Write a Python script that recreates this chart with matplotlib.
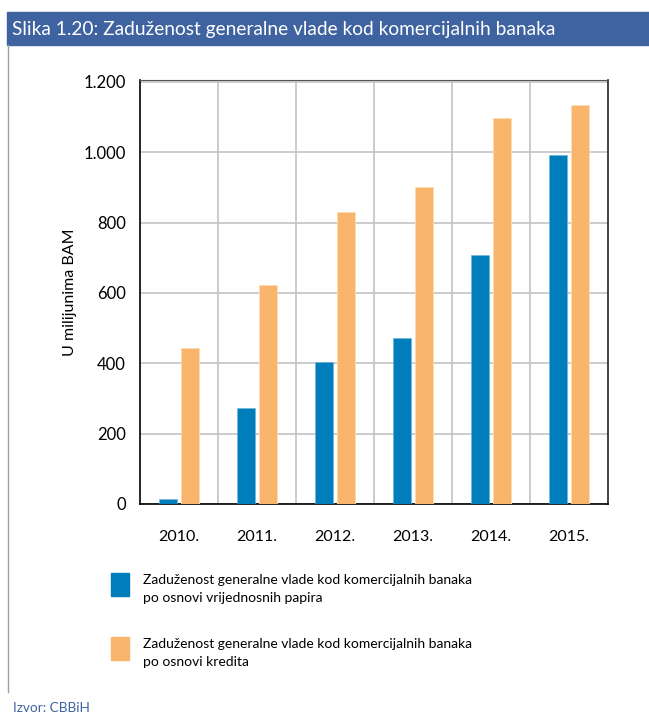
import matplotlib.pyplot as plt
import matplotlib.patches as mpatches
from matplotlib.lines import Line2D
import numpy as np

plt.rcParams['font.family'] = ['Lato', 'DejaVu Sans']

years = ['2010.', '2011.', '2012.', '2013.', '2014.', '2015.']
papiri = [13, 273, 403, 472, 707, 991]
krediti = [443, 622, 830, 900, 1097, 1133]
yticks = [0, 200, 400, 600, 800, 1000, 1200]
ytick_labels = ['0', '200', '400', '600', '800', '1.000', '1.200']
legend_labels = ['Zaduženost generalne vlade kod komercijalnih banaka\npo osnovi vrijednosnih papira',
                 'Zaduženost generalne vlade kod komercijalnih banaka\npo osnovi kredita']

blue = '#007dbb'
orange = '#f9b56b'

fig = plt.figure(figsize=(6.49, 7.15), dpi=100)

# title bar
fig.patches.append(mpatches.Rectangle((7 / 649, 1 - 45 / 715), 1, 33 / 715,
                                      transform=fig.transFigure, color='#3e63a0', zorder=0))
fig.text(12 / 649, 1 - 29 / 715, 'Slika 1.20: Zaduženost generalne vlade kod komercijalnih banaka',
         color='white', fontsize=13.8, va='center', ha='left')
# left frame line
fig.add_artist(Line2D([7.5 / 649, 7.5 / 649], [1 - 45 / 715, 1 - 692 / 715],
                      transform=fig.transFigure, color='#a0a0a0', lw=1))

ax = fig.add_axes([140 / 649, 1 - 504 / 715, 468 / 649, 424 / 715])
x = np.arange(len(years))
w = 0.23
ax.bar(x - 0.145, papiri, w, color=blue, edgecolor='#6fb3dc', linewidth=0.4, zorder=3)
ax.bar(x + 0.14, krediti, w, color=orange, edgecolor='#fcdcb5', linewidth=0.6, zorder=3)

ax.set_xlim(-0.5, len(years) - 0.5)
ax.set_ylim(0, 1205)
ax.set_yticks(yticks)
ax.set_yticklabels(ytick_labels, fontsize=12)
ax.set_xticks(x)
ax.set_xticklabels(years, fontsize=11.5)
ax.tick_params(axis='y', length=0, pad=10)
ax.tick_params(axis='x', length=0, pad=19)
ax.set_xticks(np.arange(0.5, len(years) - 1, 1), minor=True)
ax.tick_params(which='minor', length=0)
ax.grid(axis='y', color='#c4c4c4', lw=1.2, zorder=0)
ax.grid(axis='x', which='minor', color='#c4c4c4', lw=1.2, zorder=0)
ax.grid(axis='x', which='major', visible=False)
ax.set_ylabel('U milijunima BAM', fontsize=11.5)
ax.yaxis.set_label_coords(-0.135, 0.5)
for s in ['left', 'bottom']:
    ax.spines[s].set_color('black')
    ax.spines[s].set_linewidth(1.2)
ax.spines['top'].set_color('#555555')
ax.spines['right'].set_color('#222222')
ax.spines['right'].set_linewidth(1.2)

# legend
for i, (lab, col) in enumerate(zip(legend_labels, [blue, orange])):
    ytop = 573 + i * 64
    fig.patches.append(mpatches.Rectangle((111 / 649, 1 - (ytop + 23) / 715), 18 / 649, 23 / 715,
                                          transform=fig.transFigure, color=col))
    fig.text(143 / 649, 1 - (ytop + 1) / 715, lab, fontsize=10, va='top', ha='left',
             linespacing=1.55)

fig.text(13 / 649, 1 - 708 / 715, 'Izvor: CBBiH', color='#3e63a0', fontsize=9.8,
         va='center', ha='left')

fig.savefig('out.png', dpi=100)
